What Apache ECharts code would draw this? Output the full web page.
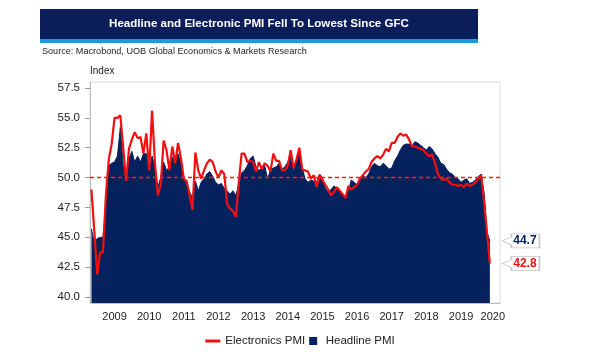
<!DOCTYPE html>
<html>
<head>
<meta charset="utf-8">
<script src="https://cdn.jsdelivr.net/npm/echarts@6/dist/echarts.min.js"></script>
<style>html,body{margin:0;padding:0;background:#fff}#c{width:600px;height:359px}</style>
</head>
<body>
<div id="c"></div>
<script>
// Electronics PMI, monthly from Oct 2008
const elec2008 = [49.0, 45.5, 41.9];
const elec2009 = [43.7, 43.8, 48.5, 51.5, 52.8, 55.0, 55.0, 55.2, 52.5, 49.7, 52.4, 53.2];
const elec2010 = [53.8, 53.3, 53.4, 52.0, 53.7, 50.6, 55.6, 51.2, 48.5, 49.4, 53.1, 52.3];
const elec2011 = [50.6, 52.6, 51.2, 52.9, 51.6, 49.9, 49.7, 48.5, 47.3, 52.1, 50.6, 49.9];
const elec2012 = [50.6, 51.2, 51.5, 51.3, 50.5, 50.0, 50.6, 50.3, 47.8, 47.4, 47.2, 46.7];
const elec2013 = [49.5, 52.0, 52.0, 51.3, 51.4, 51.3, 50.5, 51.3, 50.7, 51.2, 51.0, 50.5];
const elec2014 = [52.0, 51.4, 51.4, 50.6, 50.6, 51.0, 52.3, 50.8, 51.5, 52.5, 50.7, 50.6];
const elec2015 = [50.5, 49.9, 50.2, 49.2, 50.2, 49.8, 49.4, 49.0, 48.5, 48.8, 49.2, 48.9];
const elec2016 = [48.6, 48.3, 49.3, 49.0, 49.2, 49.4, 49.9, 50.2, 50.5, 50.7, 51.3, 51.6];
const elec2017 = [51.8, 51.6, 51.9, 52.4, 52.2, 52.9, 52.9, 53.4, 53.7, 53.5, 53.6, 53.2];
const elec2018 = [52.6, 52.6, 52.5, 52.4, 52.3, 52.0, 51.8, 51.9, 51.2, 50.3, 49.9, 49.8];
const elec2019 = [49.9, 49.6, 49.4, 49.4, 49.3, 49.4, 49.2, 49.5, 49.3, 49.4, 49.6, 49.9];
const elec2020 = [50.2, 47.9, 45.4, 42.8];

// Headline PMI, monthly from Oct 2008
const head2008 = [45.7, 44.5, 44.9];
const head2009 = [45.0, 45.0, 47.5, 51.0, 51.2, 51.3, 51.8, 54.2, 51.0, 49.8, 51.6, 52.2];
const head2010 = [51.3, 51.8, 51.3, 52.0, 52.0, 50.5, 51.8, 50.8, 49.2, 50.0, 51.3, 50.6];
const head2011 = [50.9, 51.7, 51.4, 52.0, 51.2, 50.0, 49.3, 48.8, 48.3, 49.7, 48.9, 49.6];
const head2012 = [49.9, 50.3, 50.5, 50.1, 49.6, 49.4, 49.5, 49.1, 48.9, 48.6, 48.9, 48.5];
const head2013 = [49.4, 50.4, 50.6, 51.0, 51.6, 51.8, 50.9, 50.6, 50.8, 51.0, 49.9, 50.6];
const head2014 = [50.8, 50.9, 51.2, 50.7, 50.9, 51.3, 52.0, 50.5, 51.5, 52.3, 50.8, 49.9];
const head2015 = [49.6, 49.8, 49.7, 49.6, 50.3, 50.0, 49.1, 48.8, 49.0, 49.3, 49.1, 48.9];
const head2016 = [48.6, 48.4, 48.9, 49.8, 49.6, 49.4, 49.9, 50.2, 50.0, 50.3, 50.9, 51.2];
const head2017 = [51.0, 50.9, 51.2, 51.0, 50.7, 50.8, 51.4, 51.8, 52.3, 52.7, 52.8, 52.8];
const head2018 = [52.6, 53.0, 52.9, 52.7, 52.5, 52.3, 52.6, 52.4, 52.0, 51.7, 51.2, 51.1];
const head2019 = [50.7, 50.4, 50.3, 50.0, 49.9, 49.6, 49.8, 49.9, 49.5, 49.6, 49.8, 50.1];
const head2020 = [50.3, 48.7, 45.4, 44.7];

const yTicks = [40, 42.5, 45, 47.5, 50, 52.5, 55, 57.5];
const threshold = 50;

const electronics = [].concat(elec2008, elec2009, elec2010, elec2011, elec2012, elec2013, elec2014,
  elec2015, elec2016, elec2017, elec2018, elec2019, elec2020);
const headline = [].concat(head2008, head2009, head2010, head2011, head2012, head2013, head2014,
  head2015, head2016, head2017, head2018, head2019, head2020);

// monthly categories Oct 2008 .. Jul 2020 (axis extends past last data point)
const categories = [];
for (let y = 2008, m = 10; y < 2020 || (y === 2020 && m <= 7);) {
  categories.push(y + '-' + String(m).padStart(2, '0'));
  m++; if (m > 12) { m = 1; y++; }
}

const NAVY = '#06225e';
const RED = '#f20f0f';
const FONT = 'Liberation Sans, Arial, sans-serif';
const lastIdx = electronics.length - 1;

const chart = echarts.init(document.getElementById('c'), null, {renderer: 'canvas'});
chart.setOption({
  animation: false,
  backgroundColor: '#fff',
  textStyle: {fontFamily: FONT},
  graphic: [
    {type: 'rect', shape: {x: 40, y: 9, width: 438, height: 30}, style: {fill: '#0c1e5a'}},
    {type: 'rect', shape: {x: 40, y: 39, width: 438, height: 4}, style: {fill: '#1e9ad6'}},
    {type: 'text', x: 259, y: 24, style: {text: 'Headline and Electronic PMI Fell To Lowest Since GFC',
      fill: '#fff', font: 'bold 11.6px ' + FONT, align: 'center', verticalAlign: 'middle'}},
    {type: 'text', x: 42, y: 51, style: {text: 'Source: Macrobond, UOB Global Economics & Markets Research',
      fill: '#222', font: '9.1px ' + FONT, align: 'left', verticalAlign: 'middle'}}
  ],
  grid: {left: 90, right: 100, top: 82, bottom: 56, show: true, borderColor: '#dcdcdc', borderWidth: 1},
  legend: {
    bottom: 7, left: 'center', itemWidth: 15, itemHeight: 8, itemGap: 4,
    textStyle: {fontSize: 11.5, color: '#222', fontFamily: FONT},
    data: [
      {name: 'Electronics PMI', icon: 'path://M0,0H15V3H0Z'},
      {name: 'Headline PMI', icon: 'path://M0,0H8V8H0Z'}
    ]
  },
  xAxis: {
    type: 'category', data: categories, boundaryGap: true,
    axisLine: {lineStyle: {color: '#bdbdbd'}},
    axisTick: {length: 5, lineStyle: {color: '#9a9a9a'}, interval: (i, v) => v.slice(5) === '01'},
    axisLabel: {
      interval: (i, v) => (v.slice(5) === '06' && v < '2020') || v === '2020-05',
      formatter: v => v.slice(0, 4), fontSize: 11, color: '#222', margin: 8, fontFamily: FONT
    },
    splitLine: {show: false}
  },
  yAxis: {
    type: 'value', min: 39.5, max: 58,
    name: 'Index', nameLocation: 'end', nameGap: 6,
    nameTextStyle: {align: 'left', fontSize: 10, color: '#222', fontFamily: FONT},
    axisLine: {show: true, lineStyle: {color: '#bdbdbd'}},
    axisTick: {show: true, length: 5, customValues: yTicks, lineStyle: {color: '#9a9a9a'}},
    axisLabel: {customValues: yTicks, formatter: v => v.toFixed(1), fontSize: 11.5, color: '#222', margin: 10, fontFamily: FONT},
    splitLine: {show: false}
  },
  series: [
    {
      name: 'Headline PMI', type: 'line', data: headline, showSymbol: false, symbol: 'none',
      lineStyle: {color: NAVY, width: 1}, itemStyle: {color: NAVY},
      areaStyle: {color: NAVY, opacity: 1, origin: 'start'}, z: 2,
      markPoint: {
        symbol: 'path://M9,0L37,0L37,14L9,14L9,11L0,7L9,3Z', symbolSize: [37, 14], symbolOffset: [31, 0],
        itemStyle: {color: '#fff', borderColor: '#c4c4c4', borderWidth: 1},
        label: {show: true, position: 'inside', offset: [4, 0], formatter: '{c}', color: NAVY,
          fontWeight: 'bold', fontSize: 12, fontFamily: FONT},
        data: [{coord: [categories[lastIdx], headline[lastIdx]], value: headline[lastIdx]}]
      }
    },
    {
      name: 'Electronics PMI', type: 'line', data: electronics, showSymbol: false, symbol: 'none',
      lineStyle: {color: RED, width: 2.2}, itemStyle: {color: RED}, z: 4,
      markLine: {
        symbol: ['none', 'none'], silent: true, label: {show: false},
        itemStyle: {color: '#ff1a1a'},
        lineStyle: {color: '#ff1a1a', width: 1.3, type: [4, 3], opacity: 1},
        emphasis: {disabled: true},
        data: [{yAxis: threshold}]
      },
      markPoint: {
        symbol: 'path://M9,0L37,0L37,14L9,14L9,11L0,7L9,3Z', symbolSize: [37, 14], symbolOffset: [31, 0],
        itemStyle: {color: '#fff', borderColor: '#c4c4c4', borderWidth: 1},
        label: {show: true, position: 'inside', offset: [4, 0], formatter: '{c}', color: RED,
          fontWeight: 'bold', fontSize: 12, fontFamily: FONT},
        data: [{coord: [categories[lastIdx], electronics[lastIdx]], value: electronics[lastIdx]}]
      }
    }
  ]
});
</script>
</body>
</html>
